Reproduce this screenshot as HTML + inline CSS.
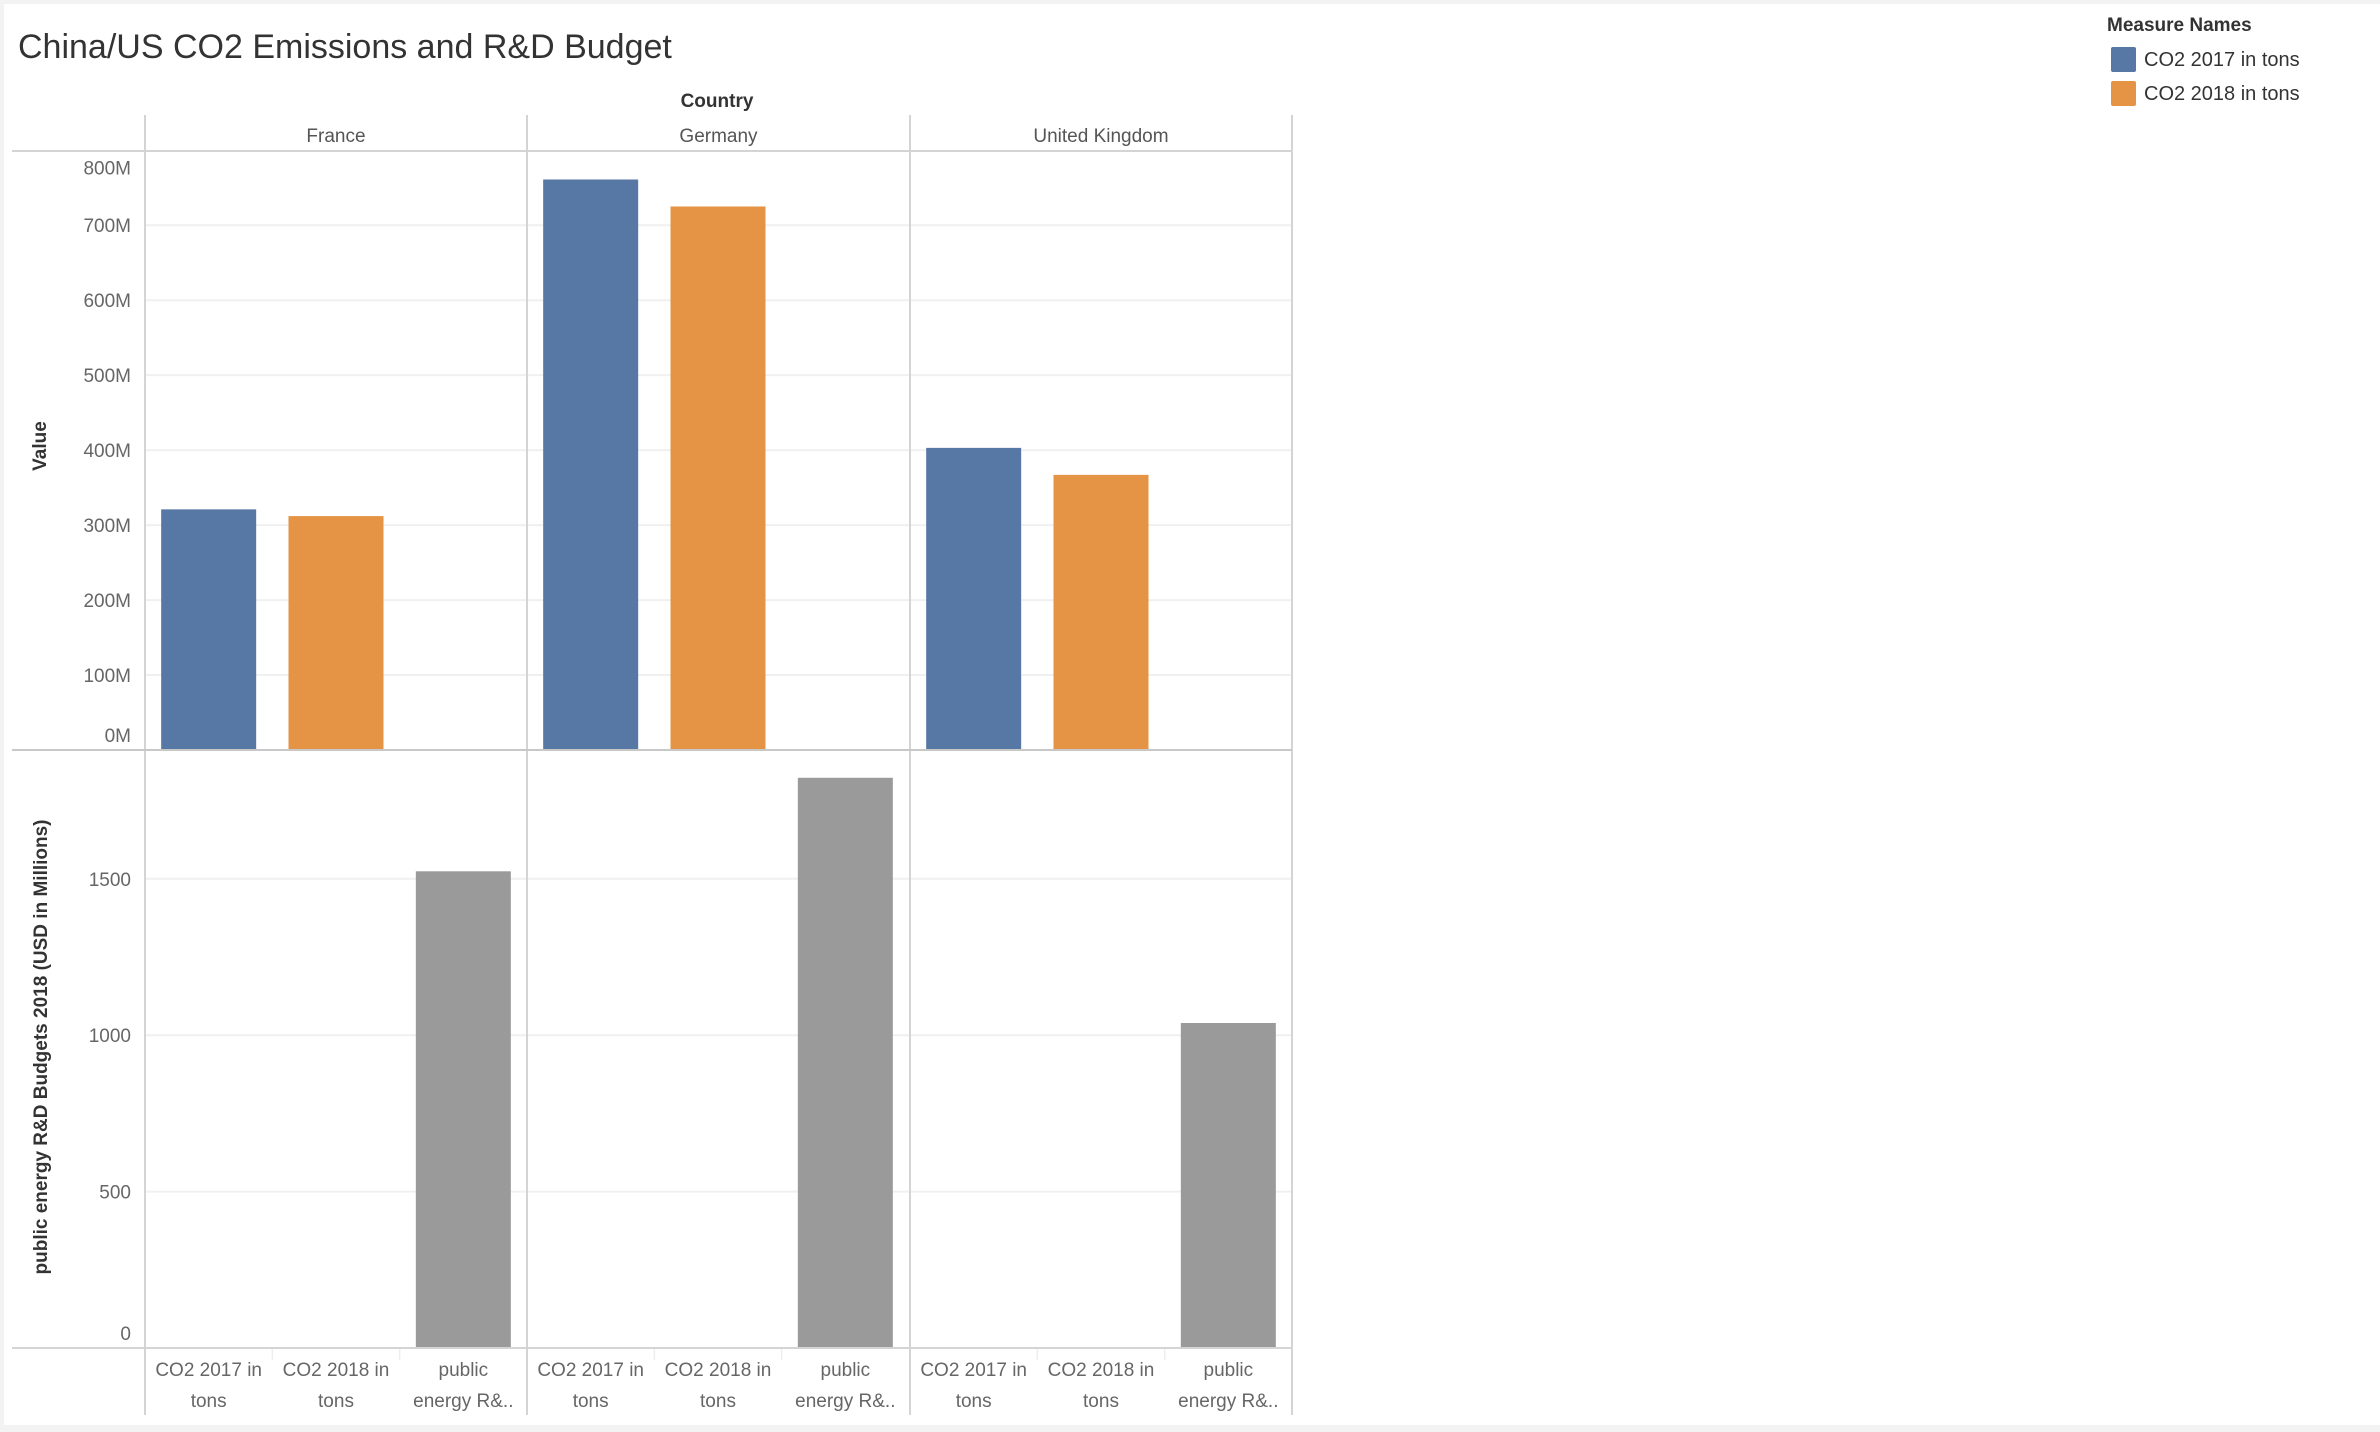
<!DOCTYPE html>
<html><head><meta charset="utf-8"><style>
html,body{margin:0;padding:0;background:#fff;}
svg{display:block;font-family:"Liberation Sans",sans-serif;}
</style></head><body>
<svg id="chart" width="2380" height="1432" viewBox="0 0 2380 1432">
<rect x="0" y="0" width="2380" height="1432" fill="#fff"/>
<rect x="0" y="0" width="2380" height="4" fill="#f3f3f3"/>
<rect x="0" y="1425" width="2380" height="7" fill="#f3f3f3"/>
<rect x="0" y="0" width="4" height="1432" fill="#f3f3f3"/>
<text x="18" y="58" font-size="34" fill="#333">China/US CO2 Emissions and R&amp;D Budget</text>
<text x="717" y="107" font-size="19" font-weight="bold" fill="#333" text-anchor="middle">Country</text>
<text x="2107" y="31" font-size="19" font-weight="bold" fill="#333">Measure Names</text>
<g><rect x="2111" y="47" width="25" height="25" rx="2" fill="#5778a4"/><text x="2144" y="66" font-size="20" fill="#333">CO2 2017 in tons</text></g>
<g><rect x="2111" y="81" width="25" height="25" rx="2" fill="#e49444"/><text x="2144" y="100" font-size="20" fill="#333">CO2 2018 in tons</text></g>
<text transform="translate(46,446) rotate(-90)" font-size="19" font-weight="bold" fill="#333" text-anchor="middle">Value</text>
<text transform="translate(47,1047) rotate(-90)" font-size="19" font-weight="bold" fill="#333" text-anchor="middle">public energy R&amp;D Budgets 2018 (USD in Millions)</text>
<g id="grid"></g><g id="marks"></g><g id="frame"></g>
</svg>
<script>
const countries = ["France","Germany","United Kingdom"];
const co2_2017 = [321, 761, 403];
const co2_2018 = [312, 725, 367];
const budget = [1524, 1823, 1039];
const topTicks = [0,100,200,300,400,500,600,700,800];
const bottomTicks = [0,500,1000,1500];
const measures = ["CO2 2017 in|tons","CO2 2018 in|tons","public|energy R&.."];

const NS="http://www.w3.org/2000/svg";
const colX=[145,527,910,1292];
const topY0=750, topY1=151, topMax=799;
const botY0=1348, botY1=749, botMax=1915;
const yTop=v=>topY0-(v/topMax)*(topY0-topY1);
const yBot=v=>botY0-(v/botMax)*(botY0-botY1);
const slotW=(colX[1]-colX[0])/3, barW=95;
const slotX=(c,m)=>colX[c]+slotW*m+(slotW-barW)/2;
function mk(tag,attrs,parent,txt){const e=document.createElementNS(NS,tag);for(const k in attrs)e.setAttribute(k,attrs[k]);if(txt!==undefined)e.textContent=txt;parent.appendChild(e);return e;}
const grid=document.getElementById('grid'),marks=document.getElementById('marks'),frame=document.getElementById('frame');
topTicks.forEach(t=>{const y=yTop(t);
 if(t>0&&t<topMax){const l=mk('line',{x1:145,x2:1292,y1:y,y2:y,stroke:'#f0f0f0','stroke-width':2},grid);
 
 }
 let ly=y+7; if(t===800) ly=y+24; if(t===0) ly=y-8;
 const tx=mk('text',{x:131,y:ly,'font-size':19,fill:'#666','text-anchor':'end'},grid,t+'M');
 
 
});
bottomTicks.forEach(t=>{const y=yBot(t);
 if(t>0){const l=mk('line',{x1:145,x2:1292,y1:y,y2:y,stroke:'#f0f0f0','stroke-width':2},grid);
 
 }
 let ly=y+7; if(t===0) ly=y-8;
 const tx=mk('text',{x:131,y:ly,'font-size':19,fill:'#666','text-anchor':'end'},grid,String(t));
 
 
});
countries.forEach((c,i)=>{
 const cx=(colX[i]+colX[i+1])/2;
 const h=mk('text',{x:cx,y:142,'font-size':19,fill:'#555','text-anchor':'middle'},frame,c);
 
 
 const b1=mk('rect',{x:slotX(i,0),y:yTop(co2_2017[i]),width:barW,height:topY0-yTop(co2_2017[i]),fill:'#5778a4'},marks);
 
 
 const b2=mk('rect',{x:slotX(i,1),y:yTop(co2_2018[i]),width:barW,height:topY0-yTop(co2_2018[i]),fill:'#e49444'},marks);
 
 
 const b3=mk('rect',{x:slotX(i,2),y:yBot(budget[i]),width:barW,height:botY0-yBot(budget[i]),fill:'#9a9a9a'},marks);
 
 
 measures.forEach((m,j)=>{const mx=colX[i]+slotW*j+slotW/2;const parts=m.split('|');
  const t=mk('text',{x:mx,y:1376,'font-size':19,fill:'#666','text-anchor':'middle'},frame);
  
  
  mk('tspan',{x:mx,dy:0},t,parts[0]);mk('tspan',{x:mx,dy:31},t,parts[1]);
  if(j>0){const s=mk('line',{x1:colX[i]+slotW*j,x2:colX[i]+slotW*j,y1:1348,y2:1360,stroke:'#eee','stroke-width':1.5},frame);
  
  }
 });
});
colX.forEach(x=>{const l=mk('line',{x1:x,x2:x,y1:115,y2:1415,stroke:'#d4d4d4','stroke-width':2},frame);
 
 });
[[151,'#d4d4d4'],[750,'#c8c8c8'],[1348,'#d4d4d4']].forEach(([y,c])=>{const l=mk('line',{x1:12,x2:1292,y1:y,y2:y,stroke:c,'stroke-width':2},frame);
 
 });
</script>
</body></html>
